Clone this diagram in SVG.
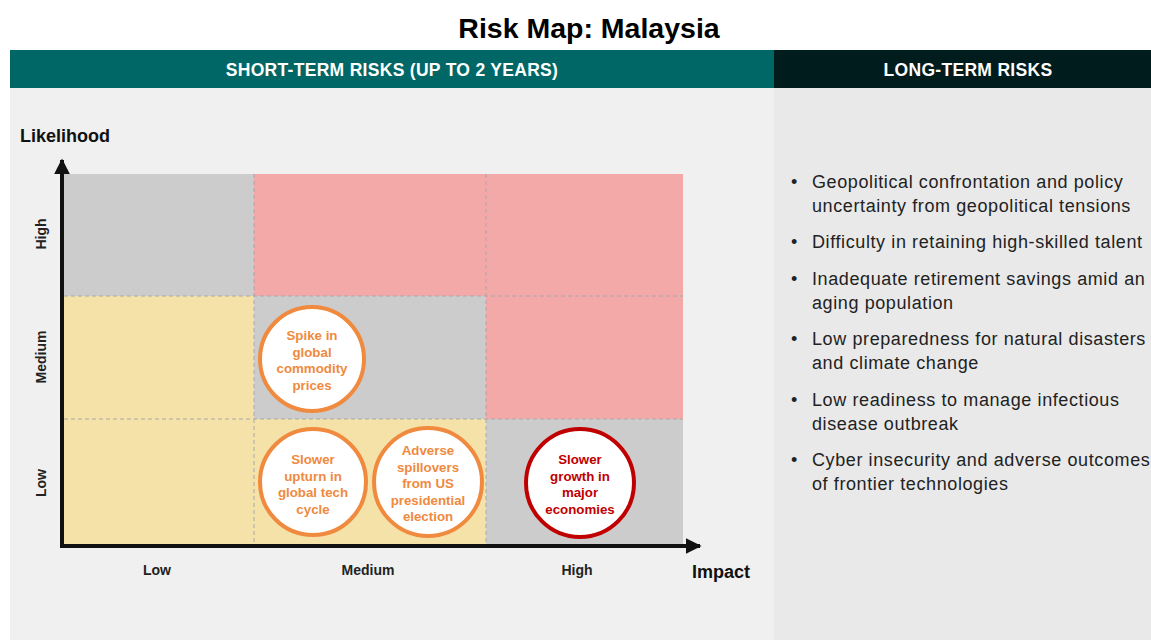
<svg xmlns="http://www.w3.org/2000/svg" width="1151" height="640" viewBox="0 0 1151 640">
  <defs>
    <style>
      .t { font-family: "Liberation Sans", Arial, sans-serif; }
      .hdr { font-family: "Liberation Sans", Arial, sans-serif; font-size: 17.5px; font-weight: bold; fill: #ffffff; text-anchor: middle; letter-spacing: 0.3px; }
      .ax { font-family: "Liberation Sans", Arial, sans-serif; font-size: 18px; font-weight: bold; fill: #111111; }
      .tick { font-family: "Liberation Sans", Arial, sans-serif; font-size: 14px; font-weight: bold; fill: #222222; text-anchor: middle; }
      .grid { stroke: #a8a8a8; stroke-width: 1; stroke-dasharray: 4 3; fill: none; }
      .bub { fill: #ffffff; stroke: #ef8a3e; stroke-width: 4; }
      .bubr { fill: #ffffff; stroke: #c00000; stroke-width: 4; }
      .bt { font-family: "Liberation Sans", Arial, sans-serif; font-size: 13.3px; font-weight: bold; fill: #ef8a3e; text-anchor: middle; }
      .btr { font-family: "Liberation Sans", Arial, sans-serif; font-size: 13.3px; font-weight: bold; fill: #c00000; text-anchor: middle; }
      .li { font-family: "Liberation Sans", Arial, sans-serif; font-size: 18px; fill: #222222; letter-spacing: 0.6px; }
      .gray { fill: #cccccc; }
      .pink { fill: #f4a9a9; }
      .yel { fill: #f5e2a8; }
    </style>
    <marker id="arrow" viewBox="0 0 10 10" refX="9" refY="5" markerWidth="4" markerHeight="4" orient="auto" markerUnits="strokeWidth">
      <path d="M0,0 L10,5 L0,10 z" fill="#111111"/>
    </marker>
  </defs>

  <rect width="1151" height="640" fill="#ffffff"/>

  <!-- title -->
  <text class="t" x="589" y="38" font-size="28.5" font-weight="bold" fill="#000000" text-anchor="middle">Risk Map: Malaysia</text>

  <!-- panels -->
  <rect x="10" y="88" width="764" height="552" fill="#f0f0f0"/>
  <rect x="774" y="88" width="377" height="552" fill="#e9e9e9"/>
  <rect x="10" y="50" width="764" height="38" fill="#006766"/>
  <rect x="774" y="50" width="377" height="38" fill="#011c1c"/>
  <text class="hdr" x="392" y="76">SHORT-TERM RISKS (UP TO 2 YEARS)</text>
  <text class="hdr" x="968" y="76">LONG-TERM RISKS</text>

  <!-- risk matrix cells -->
  <g id="matrix">
    <rect class="gray" x="64" y="174" width="190" height="122"/>
    <rect class="pink" x="254" y="174" width="232" height="122"/>
    <rect class="pink" x="486" y="174" width="197" height="122"/>
    <rect class="yel" x="64" y="296" width="190" height="123"/>
    <rect class="gray" x="254" y="296" width="232" height="123"/>
    <rect class="pink" x="486" y="296" width="197" height="123"/>
    <rect class="yel" x="64" y="419" width="190" height="127"/>
    <rect class="yel" x="254" y="419" width="232" height="127"/>
    <rect class="gray" x="486" y="419" width="197" height="127"/>
    <line class="grid" x1="64" y1="296" x2="683" y2="296"/>
    <line class="grid" x1="64" y1="419" x2="683" y2="419"/>
    <line class="grid" x1="254" y1="174" x2="254" y2="546"/>
    <line class="grid" x1="486" y1="174" x2="486" y2="546"/>
  </g>

  <!-- axes -->
  <g id="connectors">
    <line x1="62" y1="548" x2="62" y2="160" stroke="#111111" stroke-width="4" marker-end="url(#arrow)"/>
    <line x1="60" y1="546" x2="700" y2="546" stroke="#111111" stroke-width="4" marker-end="url(#arrow)"/>
  </g>

  <!-- axis labels -->
  <text class="ax" x="20" y="142">Likelihood</text>
  <text class="ax" x="692" y="578">Impact</text>
  <text class="tick" x="157" y="575">Low</text>
  <text class="tick" x="368" y="575">Medium</text>
  <text class="tick" x="577" y="575">High</text>
  <text class="tick" transform="translate(46,234) rotate(-90)">High</text>
  <text class="tick" transform="translate(46,357) rotate(-90)">Medium</text>
  <text class="tick" transform="translate(46,483) rotate(-90)">Low</text>

  <!-- risk bubbles -->
  <g id="spike">
    <circle class="bub" cx="312" cy="359" r="52"/>
    <text class="bt" x="312" y="340">Spike in</text>
    <text class="bt" x="312" y="357">global</text>
    <text class="bt" x="312" y="373">commodity</text>
    <text class="bt" x="312" y="390">prices</text>
  </g>
  <g id="tech">
    <circle class="bub" cx="313" cy="482" r="53"/>
    <text class="bt" x="313" y="464">Slower</text>
    <text class="bt" x="313" y="481">upturn in</text>
    <text class="bt" x="313" y="497">global tech</text>
    <text class="bt" x="313" y="514">cycle</text>
  </g>
  <g id="election">
    <circle class="bub" cx="428" cy="482" r="54"/>
    <text class="bt" x="428" y="455">Adverse</text>
    <text class="bt" x="428" y="472">spillovers</text>
    <text class="bt" x="428" y="488">from US</text>
    <text class="bt" x="428" y="505">presidential</text>
    <text class="bt" x="428" y="521">election</text>
  </g>
  <g id="growth">
    <circle class="bubr" cx="580" cy="483" r="54"/>
    <text class="btr" x="580" y="464">Slower</text>
    <text class="btr" x="580" y="481">growth in</text>
    <text class="btr" x="580" y="497">major</text>
    <text class="btr" x="580" y="514">economies</text>
  </g>

  <!-- long-term risk list -->
  <g id="long-term">
    <text class="li" x="791" y="188">•</text>
    <text class="li" x="812" y="188">Geopolitical confrontation and policy</text>
    <text class="li" x="812" y="212">uncertainty from geopolitical tensions</text>
    <text class="li" x="791" y="248">•</text>
    <text class="li" x="812" y="248">Difficulty in retaining high-skilled talent</text>
    <text class="li" x="791" y="285">•</text>
    <text class="li" x="812" y="285">Inadequate retirement savings amid an</text>
    <text class="li" x="812" y="309">aging population</text>
    <text class="li" x="791" y="345">•</text>
    <text class="li" x="812" y="345">Low preparedness for natural disasters</text>
    <text class="li" x="812" y="369">and climate change</text>
    <text class="li" x="791" y="406">•</text>
    <text class="li" x="812" y="406">Low readiness to manage infectious</text>
    <text class="li" x="812" y="430">disease outbreak</text>
    <text class="li" x="791" y="466">•</text>
    <text class="li" x="812" y="466">Cyber insecurity and adverse outcomes</text>
    <text class="li" x="812" y="490">of frontier technologies</text>
  </g>
</svg>
